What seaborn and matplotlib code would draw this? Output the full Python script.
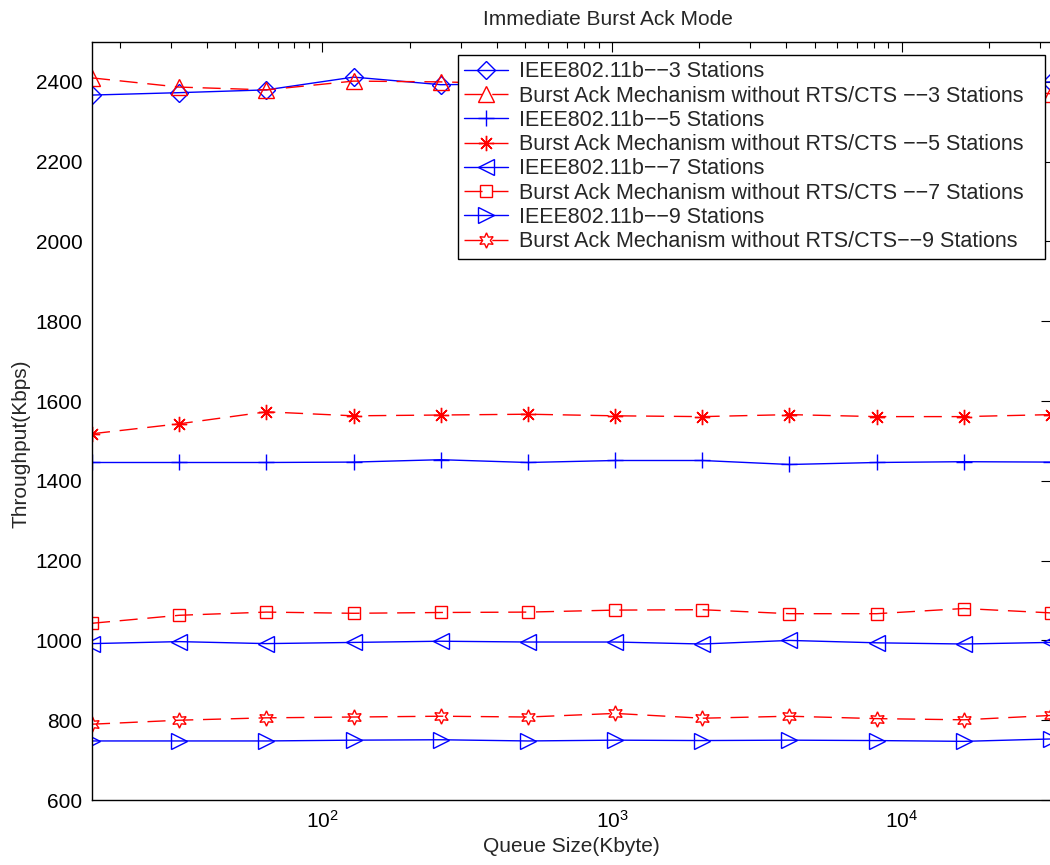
import numpy as np
import pandas as pd
import matplotlib
matplotlib.use("Agg")
import matplotlib.pyplot as plt
import seaborn as sns
from matplotlib.ticker import FixedLocator, LogLocator, FuncFormatter, NullFormatter

queue_size = [16, 32, 64, 128, 256, 512, 1024, 2048, 4096, 8192, 16384, 32768]

ieee_3 = [2367, 2373, 2380, 2412, 2393, 2395, 2390, 2398, 2392, 2396, 2393, 2400]
burst_3 = [2410, 2387, 2380, 2402, 2400, 2395, 2398, 2392, 2396, 2390, 2394, 2370]
ieee_5 = [1446, 1446, 1446, 1447, 1453, 1446, 1451, 1451, 1441, 1446, 1448, 1447]
burst_5 = [1518, 1543, 1573, 1563, 1565, 1567, 1563, 1561, 1566, 1561, 1561, 1566]
ieee_7 = [992, 997, 992, 995, 998, 996, 996, 991, 1000, 994, 991, 995]
burst_7 = [1043, 1063, 1071, 1068, 1070, 1071, 1076, 1077, 1067, 1067, 1080, 1069]
ieee_9 = [748, 748, 748, 750, 751, 748, 750, 749, 750, 749, 747, 753]
burst_9 = [790, 800, 806, 808, 810, 808, 817, 805, 810, 804, 801, 812]

D = "\u2212\u2212"
labels = [
    f"IEEE802.11b{D}3 Stations",
    f"Burst Ack Mechanism without RTS/CTS {D}3 Stations",
    f"IEEE802.11b{D}5 Stations",
    f"Burst Ack Mechanism without RTS/CTS {D}5 Stations",
    f"IEEE802.11b{D}7 Stations",
    f"Burst Ack Mechanism without RTS/CTS {D}7 Stations",
    f"IEEE802.11b{D}9 Stations",
    f"Burst Ack Mechanism without RTS/CTS{D}9 Stations",
]
series = [ieee_3, burst_3, ieee_5, burst_5, ieee_7, burst_7, ieee_9, burst_9]
markers = ["D", "^", "+", (8, 2, 0), "<", "s", ">", (6, 1, 0)]
msizes = [9, 11, 12, 11, 11, 9, 11, 11]

sns.set_style("white")
plt.rcParams["font.family"] = ["Liberation Sans", "DejaVu Sans"]
plt.rcParams["mathtext.fontset"] = "custom"
plt.rcParams["mathtext.rm"] = "Liberation Sans"

fig = plt.figure(figsize=(10.5, 8.65), dpi=100)
ax = fig.add_axes([92 / 1050, 1 - 800 / 865, 959 / 1050, 758 / 865])

for i, (lab, vals) in enumerate(zip(labels, series)):
    blue = i % 2 == 0
    col = "#0000ff" if blue else "#ff0000"
    df = pd.DataFrame({"q": queue_size, "t": vals})
    sns.lineplot(data=df, x="q", y="t", ax=ax, color=col, marker=markers[i],
                 markersize=msizes[i], markerfacecolor="none",
                 markeredgecolor=col, markeredgewidth=1.0, linewidth=1.0,
                 linestyle="-" if blue else "--", label=lab, legend=False)
    if not blue:
        ax.lines[-1].set_dashes((13, 7))

ax.set_xscale("log")
ax.set_xlim(16, 32768)
ax.set_ylim(600, 2500)
ax.set_yticks(np.arange(600, 2401, 200))
ax.xaxis.set_major_locator(FixedLocator([100, 1000, 10000]))
ax.xaxis.set_major_formatter(FuncFormatter(lambda v, p: r"$\mathregular{10^{%d}}$" % round(np.log10(v))))
ax.xaxis.set_minor_locator(LogLocator(base=10, subs=np.arange(2, 10)))
ax.xaxis.set_minor_formatter(NullFormatter())

for s in ax.spines.values():
    s.set_visible(True)
    s.set_color("black")
    s.set_linewidth(1.0)

ax.tick_params(axis="both", which="both", direction="in", top=True, right=True,
               labelsize=15, colors="black", width=0.8)
ax.tick_params(axis="both", which="major", length=7, pad=7)
ax.tick_params(axis="x", which="minor", length=4)

ax.set_xlabel("Queue Size(Kbyte)", fontsize=15, labelpad=4)
ax.set_ylabel("Throughput(Kbps)", fontsize=15)
ax.yaxis.set_label_coords(-0.064, 0.47)
ax.set_title("Immediate Burst Ack Mode", fontsize=15, x=(608 - 92) / 959, pad=12)

handles = ax.lines[:8]
x0 = (458 - 92) / 959
w = (1045 - 458) / 959
ytop = (800 - 55) / 758
leg = ax.legend(handles, labels, loc="upper left", bbox_to_anchor=(x0, ytop - 0.5, w, 0.5),
                mode="expand", fontsize=15.5, frameon=True, fancybox=False, edgecolor="black",
                framealpha=1, handlelength=2.0, labelspacing=0.15, borderpad=0.3,
                handletextpad=0.55, borderaxespad=0)
leg.get_frame().set_linewidth(1.0)

fig.savefig("out.png", dpi=100)
